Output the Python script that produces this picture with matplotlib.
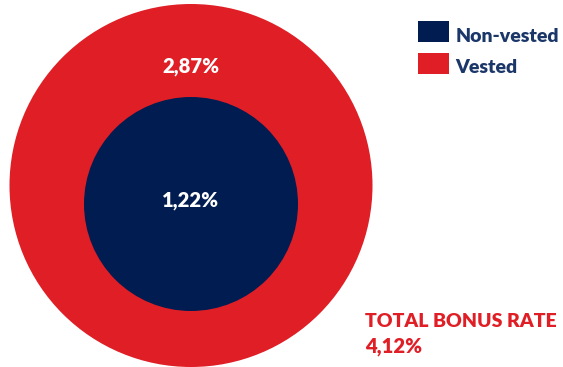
import matplotlib
matplotlib.use("Agg")
import matplotlib.pyplot as plt
from matplotlib.patches import Circle, Rectangle

# Bonus rate breakdown (percent)
series = ["Non-vested", "Vested"]
values = [1.22, 2.87]
total_rate = 4.12
total_label = "TOTAL BONUS RATE"

RED = "#E01E26"
NAVY = "#011C50"
LEGEND_TEXT = "#1B3668"

plt.rcParams["font.family"] = ["Lato", "DejaVu Sans"]

def fmt(v):
    return f"{v:.2f}".replace(".", ",") + "%"

W, H = 563, 367
fig = plt.figure(figsize=(W / 100, H / 100), dpi=100)
ax = fig.add_axes([0, 0, 1, 1])
ax.set_xlim(0, W)
ax.set_ylim(H, 0)
ax.set_aspect("equal")
ax.axis("off")

# Outer disc = total, inner disc = non-vested part
outer_c, outer_r = (191, 185.5), 181.5
inner_c, inner_r = (191, 204), 107

ax.add_patch(Circle(outer_c, outer_r, color=RED, lw=0))
ax.add_patch(Circle(inner_c, inner_r, color=NAVY, lw=0))

FS = 14
FS_NUM = 14.6
ax.text(191, 72, fmt(values[1]), color="white", fontsize=FS_NUM,
        fontweight="heavy", ha="center", va="baseline")
ax.text(191, 207, fmt(values[0]), color="white", fontsize=FS_NUM,
        fontweight="heavy", ha="center", va="baseline")

# Legend
for i, (name, col) in enumerate(zip(series, [NAVY, RED])):
    y0 = 21 + i * 31.5
    ax.add_patch(Rectangle((418, y0), 31, 21, color=col, lw=0))
    ax.text(455.5, y0 + 20.8, name, color=LEGEND_TEXT, fontsize=FS,
            fontweight="heavy", ha="left", va="baseline")

# Total annotation
ax.text(365, 326.7, total_label, color=RED, fontsize=FS,
        fontweight="heavy", ha="left", va="baseline")
ax.text(365, 353, fmt(total_rate), color=RED, fontsize=FS_NUM,
        fontweight="heavy", ha="left", va="baseline")

fig.savefig("out.png", dpi=100)
